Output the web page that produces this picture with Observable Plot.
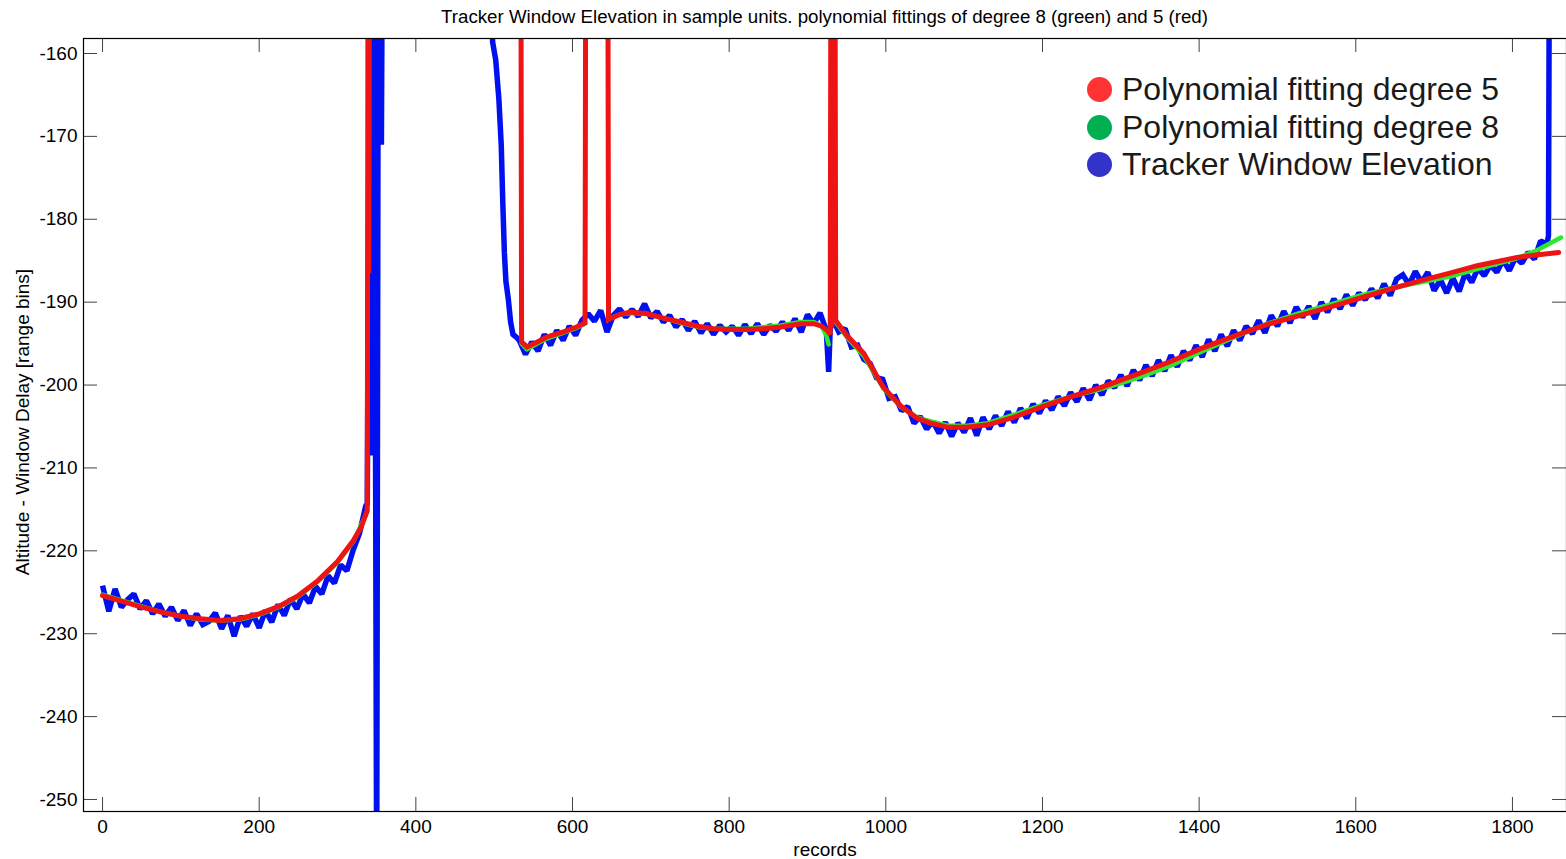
<!DOCTYPE html>
<html><head><meta charset="utf-8">
<script src="https://cdn.jsdelivr.net/npm/d3@7"></script>
<script src="https://cdn.jsdelivr.net/npm/@observablehq/plot@0.6"></script>
<style>
body{margin:0;background:#fff;font-family:"Liberation Sans",Arial,sans-serif;}
#wrap{position:relative;width:1566px;height:859px;overflow:hidden;background:#fff}
#title{position:absolute;left:83px;width:1483px;top:6px;line-height:22px;text-align:center;font-size:18.7px;color:#000;z-index:2}
#legend{position:absolute;left:1087px;top:71px;z-index:2}
.row{display:flex;align-items:center;height:37.5px}
.dot{width:25px;height:25px;border-radius:50%;margin-right:10px}
.lab{font-size:32px;color:#1a1a1a;white-space:nowrap}
</style></head><body>
<div id="wrap"><div id="title"></div><div id="legend"></div></div>
<script>
const titleText = "Tracker Window Elevation in sample units. polynomial fittings of degree 8 (green) and 5 (red)";
const xLabel = "records";
const yLabel = "Altitude - Window Delay [range bins]";
const xTicks = [0, 200, 400, 600, 800, 1000, 1200, 1400, 1600, 1800];
const yTicks = [-250, -240, -230, -220, -210, -200, -190, -180, -170, -160];
const xDomain = [-24.3, 1869];
const yDomain = [-251.45, -158.19];

const legendNames = ["Polynomial fitting degree 5", "Polynomial fitting degree 8", "Tracker Window Elevation"];
const legendColors = ["#ff3333", "#00b050", "#3333cc"];

// Tracker Window Elevation, first stretch: records 0..336 every 8
const blueAStart = 0, blueAStep = 8;
const blueA = [-224.2,-227.3,-224.6,-226.8,-225.9,-225.2,-227.0,-226.0,-227.6,-226.4,
  -227.9,-226.8,-228.4,-227.2,-229.0,-227.6,-228.9,-228.5,-227.5,-229.4,
  -227.8,-230.3,-227.9,-229.1,-227.6,-229.3,-227.2,-228.6,-226.5,-227.8,
  -225.8,-227.0,-225.2,-226.3,-224.3,-225.2,-223.0,-223.9,-221.7,-222.4,
  -219.9,-217.9,-214.6];
// irregular excursions and the return from above the window
const blueJumps = [[338,-214.3],[341,-150],[345,-208.5],[347,-150],[350,-262],[352,-150],[356,-171],[357,-150],
  [497,-150],[498,-158.6],[502,-160.8],[506,-165.5],[509,-171],[511,-178],[513,-184],[515,-187.5],
  [518,-189.6],[521,-192.4],[524,-193.9],[528,-194.2],[927,-198.4],[929,-193.2],[1846,-182.0],[1847,-150]];
// second stretch: records 532..1844 every 8
const blueBStart = 532, blueBStep = 8;
const blueB = [-194.6,-196.3,-194.8,-195.9,-193.9,-195.2,-193.4,-194.6,-192.9,-194.0,
  -192.2,-191.4,-192.3,-191.0,-193.6,-191.6,-190.8,-191.8,-190.9,-191.7,
  -190.2,-191.9,-191.1,-192.4,-191.6,-193.0,-192.1,-193.4,-192.3,-193.7,
  -192.6,-193.9,-192.8,-193.6,-192.9,-194.0,-192.7,-193.8,-192.6,-193.9,
  -192.8,-193.5,-192.4,-193.4,-192.0,-193.6,-191.5,-192.6,-191.3,-193.4,
  -192.0,-193.6,-193.2,-195.4,-195.2,-196.9,-197.4,-199.1,-199.3,-201.6,
  -201.4,-203.1,-202.6,-204.6,-203.8,-205.3,-204.4,-205.8,-204.5,-206.2,
  -204.6,-205.7,-204.0,-206.1,-203.9,-205.3,-203.7,-204.9,-203.2,-204.5,
  -202.8,-204.0,-202.3,-203.4,-201.9,-203.0,-201.4,-202.5,-200.9,-202.0,
  -200.4,-201.8,-200.0,-201.2,-199.5,-200.3,-198.8,-200.1,-198.2,-199.4,
  -197.6,-198.9,-197.0,-198.3,-196.4,-197.8,-195.9,-197.0,-195.2,-196.6,
  -194.5,-195.9,-193.9,-195.3,-193.4,-194.6,-192.9,-193.8,-192.2,-193.7,
  -191.6,-192.9,-191.1,-192.5,-190.6,-191.8,-190.5,-192.0,-190.0,-191.2,
  -189.6,-190.8,-189.1,-190.4,-188.9,-189.7,-188.4,-189.5,-187.8,-189.2,
  -187.2,-186.7,-187.9,-186.3,-187.6,-186.4,-188.6,-187.3,-188.9,-187.1,
  -188.7,-186.4,-187.6,-185.9,-186.8,-185.5,-186.4,-184.9,-186.2,-184.6,
  -185.3,-184.0,-184.8,-182.6,-183.0];

// Polynomial fitting degree 5 (red), with its excursions above the window
const redFit = [[0,-225.4],[25,-226.1],[50,-226.8],[75,-227.4],[100,-227.9],[125,-228.2],[150,-228.4],[175,-228.2],
  [200,-227.6],[225,-226.7],[250,-225.4],[275,-223.6],[300,-221.3],[320,-218.8],[330,-217.2],[338,-215.1],
  [339,-140],[340,-186.5],[341,-140],[534,-140],[535,-194.8],[542,-195.4],[555,-194.8],[567,-194.2],[588,-193.6],
  [605,-193.0],[616,-192.5],[617,-140],[645,-140],[646,-192.1],[660,-191.5],[674,-191.2],[695,-191.4],[715,-191.9],
  [738,-192.4],[760,-192.9],[780,-193.2],[800,-193.3],[823,-193.3],[845,-193.2],[866,-193.0],[891,-192.6],[908,-192.6],
  [918,-192.9],[925,-193.4],[929,-193.9],[930,-140],[931,-193.0],[932,-140],[934,-192.5],[935,-140],[936,-192.2],
  [950,-194.0],[972,-196.2],[997,-200.3],[1020,-202.6],[1040,-204.0],[1057,-204.6],[1080,-205.1],[1104,-205.1],
  [1130,-204.8],[1163,-203.9],[1200,-202.6],[1240,-201.3],[1274,-200.3],[1300,-199.4],[1329,-198.4],[1365,-197.1],
  [1402,-195.6],[1453,-193.8],[1490,-192.6],[1529,-191.6],[1570,-190.5],[1606,-189.5],[1645,-188.4],[1683,-187.4],
  [1720,-186.5],[1755,-185.6],[1806,-184.6],[1830,-184.3],[1859,-184.0]];

// Polynomial fitting degree 8 (green); null marks a break
const greenFit = [[0,-225.3],[25,-226.0],[50,-226.7],[75,-227.4],[100,-227.9],[125,-228.3],[150,-228.4],[175,-228.3],
  [200,-227.7],[225,-226.8],[250,-225.5],[275,-223.7],[300,-221.4],[320,-218.9],[338,-215.3],[339,null],
  [535,-195.0],[542,-195.7],[555,-195.0],[567,-194.4],[588,-193.7],[605,-193.1],[616,-192.6],[617,null],
  [646,-192.0],[660,-191.5],[674,-191.3],[695,-191.4],[715,-191.9],[738,-192.5],[760,-193.0],[780,-193.2],
  [800,-193.2],[823,-193.2],[845,-193.0],[866,-192.8],[891,-192.4],[908,-192.4],[918,-192.9],[924,-194.0],
  [927,-195.1],[928,null],[936,-192.4],[950,-194.2],[972,-196.5],[997,-200.4],[1020,-202.7],[1040,-203.9],
  [1057,-204.4],[1080,-204.9],[1104,-204.9],[1130,-204.6],[1163,-203.6],[1200,-202.4],[1240,-201.3],[1274,-200.5],
  [1300,-199.8],[1329,-198.9],[1365,-197.6],[1402,-196.0],[1453,-193.9],[1490,-192.5],[1529,-191.3],[1570,-190.2],
  [1606,-189.2],[1645,-188.3],[1683,-187.6],[1720,-186.9],[1755,-186.0],[1806,-184.7],[1830,-183.8],[1862,-182.2]];

// build tables
const blue = [
  ...blueA.map((v, i) => ({x: blueAStart + i * blueAStep, y: v})),
  ...blueJumps.map(([x, y]) => ({x, y})),
  ...blueB.map((v, i) => ({x: blueBStart + i * blueBStep, y: v}))
].sort((a, b) => a.x - b.x);
const red = redFit.map(([x, y]) => ({x, y}));
const green = greenFit.map(([x, y]) => ({x, y}));

const W = 1566, H = 859, mT = 38, mB = 48, mL = 83, mR = 0;
const innerH = H - mT - mB, innerW = W - mL - mR;
const tickLen = 14;
const fmt = d => String(d).replace("\u2212", "-");

const chart = Plot.plot({
  width: W, height: H,
  marginTop: mT, marginBottom: mB, marginLeft: mL, marginRight: mR,
  style: {fontFamily: "Liberation Sans, Arial, sans-serif", fontSize: "19px", color: "#000", background: "transparent"},
  x: {domain: xDomain, ticks: xTicks},
  y: {domain: yDomain, ticks: yTicks},
  marks: [
    Plot.ruleX(xTicks, {x: d => d, stroke: "#444", insetTop: innerH - tickLen}),
    Plot.ruleX(xTicks, {x: d => d, stroke: "#444", insetBottom: innerH - tickLen}),
    Plot.ruleY(yTicks, {y: d => d, stroke: "#444", insetRight: innerW - tickLen}),
    Plot.ruleY(yTicks, {y: d => d, stroke: "#444", insetLeft: innerW - tickLen}),
    Plot.line(blue, {x: "x", y: "y", stroke: "#0010ee", strokeWidth: 5.5, clip: true, strokeLinejoin: "miter", strokeMiterlimit: 1.5, strokeLinecap: "butt"}),
    Plot.line(green, {x: "x", y: "y", stroke: "#2ee82e", strokeWidth: 4.5, clip: true}),
    Plot.line(red, {x: "x", y: "y", stroke: "#ee1414", strokeWidth: 5, clip: true, strokeLinejoin: "miter", strokeMiterlimit: 2}),
    Plot.axisX(xTicks, {tickSize: 0, tickPadding: 8, tickFormat: fmt, label: null}),
    Plot.axisY(yTicks, {tickSize: 0, tickPadding: 6, tickFormat: fmt, label: null}),
    Plot.text([xLabel], {text: d => d, frameAnchor: "bottom", dy: 44, fontSize: 19, fill: "#000"}),
    Plot.text([yLabel], {text: d => d, frameAnchor: "left", textAnchor: "middle", rotate: -90, dx: -61, dy: -3, fontSize: 19, fill: "#000"}),
    Plot.frame({stroke: "#000", strokeWidth: 1.2})
  ]
});
const wrap = document.getElementById("wrap");
wrap.appendChild(chart);
document.getElementById("title").textContent = titleText;
const leg = document.getElementById("legend");
legendNames.forEach((n, i) => {
  const r = document.createElement("div"); r.className = "row";
  const d = document.createElement("div"); d.className = "dot"; d.style.background = legendColors[i];
  const t = document.createElement("div"); t.className = "lab"; t.textContent = n;
  r.appendChild(d); r.appendChild(t); leg.appendChild(r);
});
</script>
</body></html>
